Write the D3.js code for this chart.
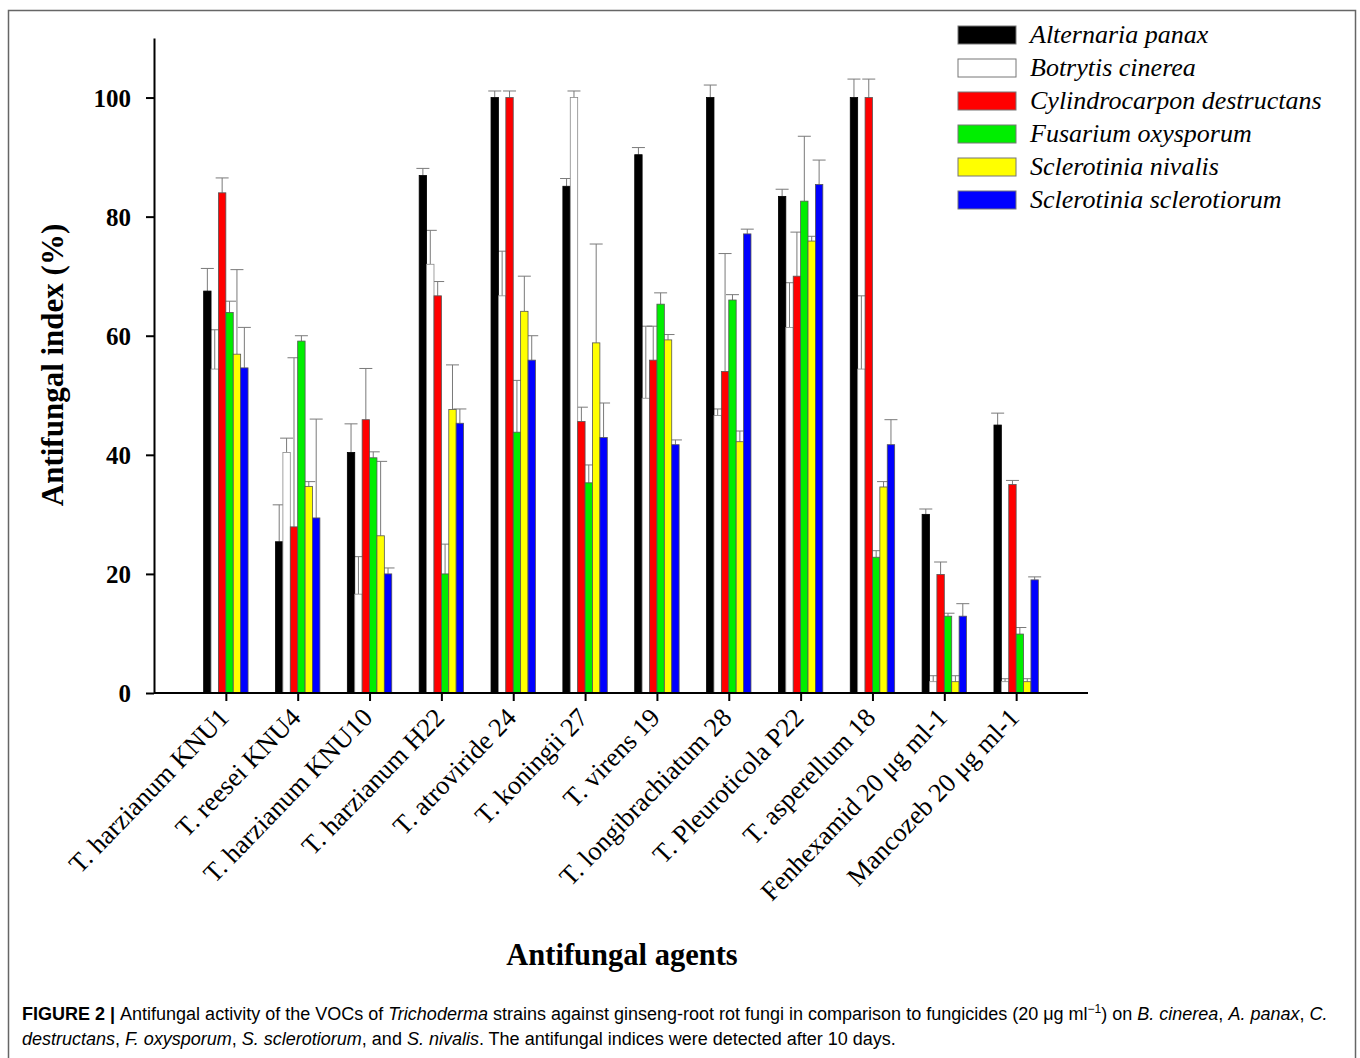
<!DOCTYPE html>
<html>
<head>
<meta charset="utf-8">
<script src="https://cdn.jsdelivr.net/npm/d3@7"></script>
<style>
  body { margin: 0; background: #fff; }
  svg text { fill: #000; }
</style>
</head>
<body>
<div id="chart"></div>
<script>
const WIDTH = 1360;
const HEIGHT = 1058;

// groups on the x axis
const agents = [
    "T. harzianum KNU1", "T. reesei KNU4", "T. harzianum KNU10", "T. harzianum H22",
    "T. atroviride 24", "T. koningii 27", "T. virens 19", "T. longibrachiatum 28",
    "T. Pleuroticola P22", "T. asperellum 18", "Fenhexamid 20 μg ml-1", "Mancozeb 20 μg ml-1"
];

const fungi = [
    "Alternaria panax", "Botrytis cinerea", "Cylindrocarpon destructans",
    "Fusarium oxysporum", "Sclerotinia nivalis", "Sclerotinia sclerotiorum"
];
const fungi_colors = ["#000000", "#ffffff", "#ff0000", "#00ee00", "#ffff00", "#0000ff"];

// antifungal index (%) per fungus, one value per agent
const alternaria = [67.5, 25.4, 40.4, 86.9, 100, 85.1, 90.4, 100, 83.4, 100, 30.0, 45.0];
const botrytis = [54.4, 40.4, 16.6, 72.0, 66.7, 100, 49.5, 46.6, 61.4, 54.4, 1.9, 1.9];
const cylindrocarpon = [84.0, 27.9, 45.9, 66.7, 100, 45.6, 55.9, 54.0, 70.0, 100, 19.9, 35.0];
const fusarium = [63.9, 59.1, 39.5, 20.0, 43.8, 35.3, 65.3, 66.0, 82.6, 22.8, 12.9, 9.9];
const nivalis = [56.9, 34.7, 26.4, 47.6, 64.1, 58.8, 59.3, 42.2, 75.9, 34.6, 1.9, 1.9];
const sclerotiorum = [54.6, 29.4, 20.0, 45.3, 55.9, 42.9, 41.7, 77.1, 85.4, 41.7, 12.9, 19.0];

// error bar sizes
const alternaria_err = [3.8, 6.2, 4.8, 1.2, 1.1, 1.3, 1.2, 2.1, 1.2, 3.1, 0.9, 2.0];
const botrytis_err = [6.6, 2.4, 6.3, 5.7, 7.5, 1.1, 12.1, 1.1, 7.5, 12.3, 1.0, 0.5];
const cylindrocarpon_err = [2.5, 28.4, 8.6, 2.4, 1.1, 2.4, 5.7, 19.8, 7.4, 3.1, 2.1, 0.7];
const fusarium_err = [1.9, 0.9, 1.0, 5.0, 8.7, 3.0, 1.9, 0.9, 10.9, 1.1, 0.5, 1.1];
const nivalis_err = [14.2, 0.8, 12.5, 7.5, 5.9, 16.6, 0.9, 1.8, 0.8, 0.9, 1.0, 0.5];
const sclerotiorum_err = [6.8, 16.6, 1.0, 2.4, 4.1, 5.8, 0.8, 0.8, 4.1, 4.2, 2.1, 0.5];

const y_ticks = [0, 20, 40, 60, 80, 100];

const series_values = [alternaria, botrytis, cylindrocarpon, fusarium, nivalis, sclerotiorum];
const series_errors = [alternaria_err, botrytis_err, cylindrocarpon_err, fusarium_err, nivalis_err, sclerotiorum_err];

const SERIF = "'Liberation Serif', 'Times New Roman', serif";
const SANS = "'Liberation Sans', Arial, sans-serif";

let svg = d3.select("#chart").append("svg")
    .attr("width", WIDTH)
    .attr("height", HEIGHT);

// outer frame
svg.append("rect")
    .attr("x", 8.5).attr("y", 10.5)
    .attr("width", 1347).attr("height", 1060)
    .attr("fill", "none")
    .attr("stroke", "#666")
    .attr("stroke-width", 1.5);

const plot = { left: 154, right: 1088, top: 38, bottom: 693 };

let x = d3.scalePoint()
    .domain(agents)
    .range([plot.left, plot.right])
    .padding(1);

let xInner = d3.scaleBand()
    .domain(fungi)
    .range([-22.2, 22.2]);

let y = d3.scaleLinear()
    .domain([0, 110])
    .range([plot.bottom, plot.top]);

// flatten into one record per bar
let bars = [];
agents.forEach(function (agent, i) {
    fungi.forEach(function (f, j) {
        bars.push({ agent: agent, fungus: f, color: fungi_colors[j],
            value: series_values[j][i], err: series_errors[j][i] });
    });
});

let bar_g = svg.append("g");

// error bars first so the bar fill hides the lower half
bar_g.selectAll("g.err")
    .data(bars)
    .enter().append("g")
    .attr("class", "err")
    .each(function (d) {
        const cx = x(d.agent) + xInner(d.fungus) + xInner.bandwidth() / 2;
        const g = d3.select(this);
        g.append("line")
            .attr("x1", cx).attr("x2", cx)
            .attr("y1", y(d.value)).attr("y2", y(d.value + d.err))
            .attr("stroke", "#7a7a7a").attr("stroke-width", 1);
        g.append("line")
            .attr("x1", cx - 6.5).attr("x2", cx + 6.5)
            .attr("y1", y(d.value + d.err)).attr("y2", y(d.value + d.err))
            .attr("stroke", "#7a7a7a").attr("stroke-width", 1);
    });

bar_g.selectAll("rect")
    .data(bars)
    .enter().append("rect")
    .attr("x", d => x(d.agent) + xInner(d.fungus))
    .attr("y", d => y(d.value))
    .attr("width", xInner.bandwidth())
    .attr("height", d => y(0) - y(d.value))
    .attr("fill", d => d.color)
    .attr("stroke", d => d.color === "#000000" ? "#000" : (d.color === "#ffffff" ? "#8a8a8a" : "#555"))
    .attr("stroke-width", 0.8);

// y axis
let yAxis = svg.append("g")
    .attr("transform", "translate(" + plot.left + ",0)")
    .call(d3.axisLeft(y).tickValues(y_ticks).tickSize(8).tickPadding(15).tickSizeOuter(0));
yAxis.select(".domain").attr("stroke", "#000").attr("stroke-width", 2);
yAxis.selectAll(".tick line").attr("stroke", "#000").attr("stroke-width", 2);
yAxis.selectAll(".tick text")
    .attr("font-family", SERIF)
    .attr("font-weight", "bold")
    .attr("font-size", 25)
    .attr("dy", "0.34em");

// x axis
let xAxis = svg.append("g")
    .attr("transform", "translate(0," + plot.bottom + ")")
    .call(d3.axisBottom(x).tickSize(8).tickSizeOuter(0));
xAxis.select(".domain").attr("stroke", "#000").attr("stroke-width", 2)
    .attr("d", "M" + plot.left + ",0H" + plot.right);
xAxis.selectAll(".tick line").attr("stroke", "#000").attr("stroke-width", 2);
xAxis.selectAll(".tick text")
    .attr("font-family", SERIF)
    .attr("font-size", 26.5)
    .attr("text-anchor", "end")
    .attr("y", 0)
    .attr("dy", 0)
    .attr("transform", "translate(4,26) rotate(-46)");

// axis titles
svg.append("text")
    .attr("transform", "translate(63,365) rotate(-90)")
    .attr("text-anchor", "middle")
    .attr("font-family", SERIF)
    .attr("font-weight", "bold")
    .attr("font-size", 31)
    .text("Antifungal index (%)");

svg.append("text")
    .attr("x", 622).attr("y", 965)
    .attr("text-anchor", "middle")
    .attr("font-family", SERIF)
    .attr("font-weight", "bold")
    .attr("font-size", 30.5)
    .text("Antifungal agents");

// legend
let legend = svg.append("g");
let items = legend.selectAll("g")
    .data(fungi)
    .enter().append("g")
    .attr("transform", (d, i) => "translate(958," + (26 + i * 33) + ")");
items.append("rect")
    .attr("width", 58).attr("height", 18)
    .attr("fill", (d, i) => fungi_colors[i])
    .attr("stroke", "#777").attr("stroke-width", 1);
items.append("text")
    .attr("x", 72).attr("y", 17)
    .attr("font-family", SERIF)
    .attr("font-style", "italic")
    .attr("font-size", 26)
    .text(d => d);

// caption
let cap = svg.append("g")
    .attr("font-family", SANS)
    .attr("font-size", 18)
    .attr("fill", "#222");
let line1 = cap.append("text").attr("x", 22).attr("y", 1020).attr("fill", "#222");
line1.append("tspan").attr("font-weight", "bold").text("FIGURE 2 | ");
line1.append("tspan").text("Antifungal activity of the VOCs of ");
line1.append("tspan").attr("font-style", "italic").text("Trichoderma");
line1.append("tspan").text(" strains against ginseng-root rot fungi in comparison to fungicides (20 μg ml");
line1.append("tspan").attr("font-size", 12).attr("dy", -7).text("−1");
line1.append("tspan").attr("dy", 7).text(") on ");
line1.append("tspan").attr("font-style", "italic").text("B. cinerea");
line1.append("tspan").text(", ");
line1.append("tspan").attr("font-style", "italic").text("A. panax");
line1.append("tspan").text(", ");
line1.append("tspan").attr("font-style", "italic").text("C.");

let line2 = cap.append("text").attr("x", 22).attr("y", 1045).attr("fill", "#222");
line2.append("tspan").attr("font-style", "italic").text("destructans");
line2.append("tspan").text(", ");
line2.append("tspan").attr("font-style", "italic").text("F. oxysporum");
line2.append("tspan").text(", ");
line2.append("tspan").attr("font-style", "italic").text("S. sclerotiorum");
line2.append("tspan").text(", and ");
line2.append("tspan").attr("font-style", "italic").text("S. nivalis");
line2.append("tspan").text(". The antifungal indices were detected after 10 days.");
</script>
</body>
</html>
